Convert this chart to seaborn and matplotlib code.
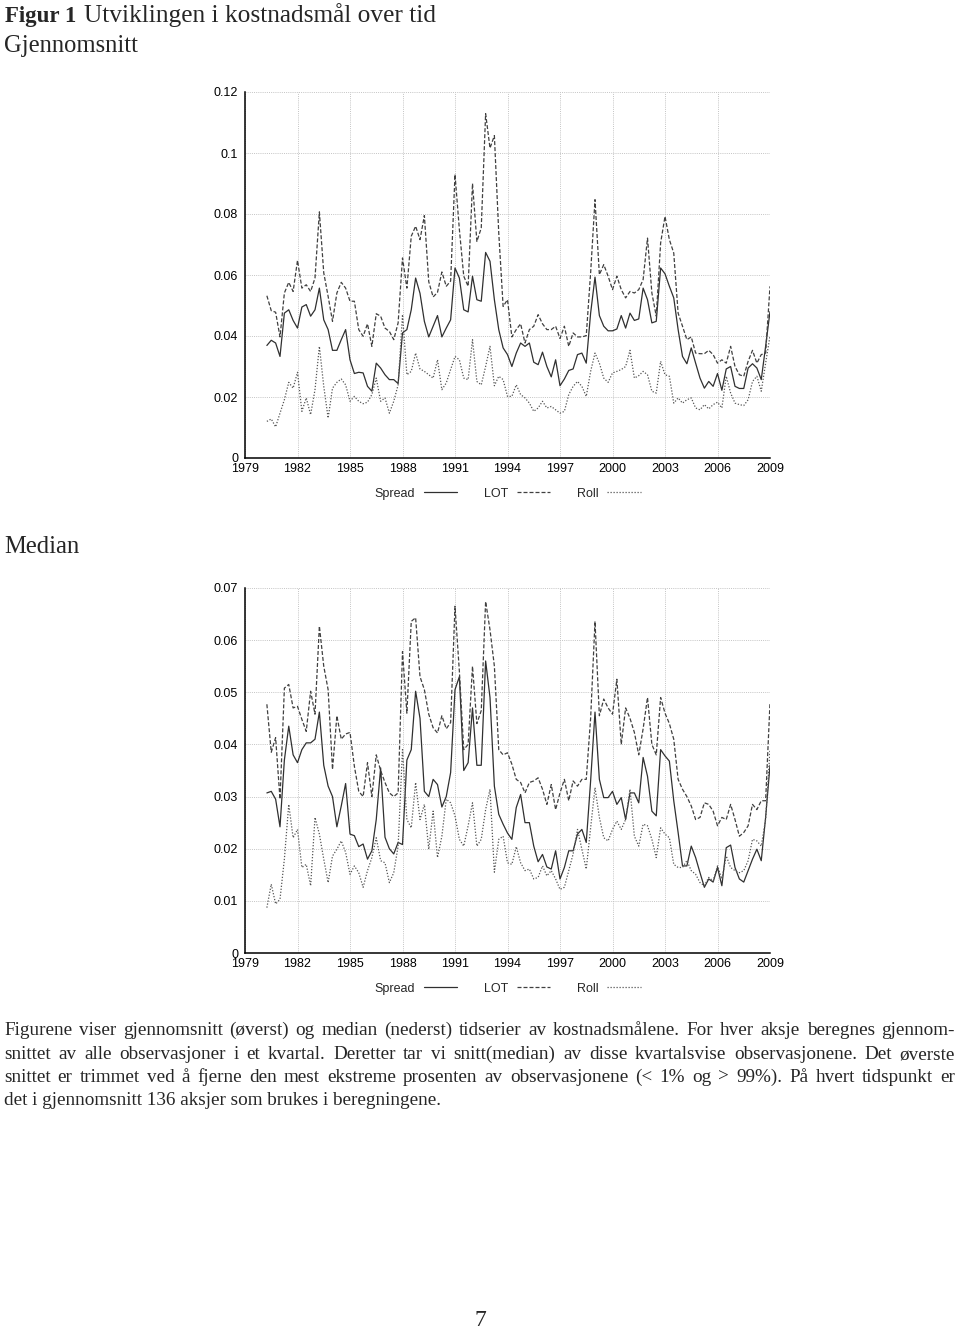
import matplotlib
matplotlib.use('Agg')
import matplotlib.pyplot as plt
import seaborn as sns
import numpy as np
import pandas as pd
from matplotlib.lines import Line2D
from matplotlib.ticker import MultipleLocator, FixedLocator, FuncFormatter

sns.set_style("white")
plt.rcParams['font.family'] = ['Liberation Sans', 'DejaVu Sans']

# quarterly observations, 1980Q2 .. 2009Q1
t = 1980.25 + 0.25 * np.arange(116)

# Gjennomsnitt (trimmed mean)
mean_spread = [
    0.0369, 0.0386, 0.0377, 0.0333, 0.0475, 0.0486, 0.0451, 0.0426, 0.0495, 0.0503,
    0.0465, 0.0486, 0.0557, 0.0453, 0.0421, 0.0353, 0.0353, 0.0388, 0.0421, 0.0322,
    0.0277, 0.0281, 0.0279, 0.0235, 0.0219, 0.0311, 0.0295, 0.0273, 0.0257, 0.0257,
    0.0244, 0.0410, 0.0421, 0.0486, 0.0590, 0.0540, 0.0448, 0.0397, 0.0432, 0.0467,
    0.0397, 0.0426, 0.0453, 0.0623, 0.0590, 0.0486, 0.0479, 0.0596, 0.0519, 0.0514,
    0.0674, 0.0645, 0.0519, 0.0421, 0.0361, 0.0339, 0.0300, 0.0344, 0.0377, 0.0366,
    0.0377, 0.0314, 0.0306, 0.0347, 0.0300, 0.0266, 0.0322, 0.0237, 0.0259, 0.0287,
    0.0292, 0.0339, 0.0344, 0.0311, 0.0475, 0.0593, 0.0467, 0.0432, 0.0417, 0.0417,
    0.0423, 0.0467, 0.0426, 0.0475, 0.0451, 0.0456, 0.0557, 0.0519, 0.0443, 0.0448,
    0.0623, 0.0604, 0.0563, 0.0525, 0.0421, 0.0333, 0.0309, 0.0361, 0.0311, 0.0262,
    0.0229, 0.0251, 0.0235, 0.0277, 0.0222, 0.0292, 0.0300, 0.0235, 0.0228, 0.0228,
    0.0295, 0.0309, 0.0295, 0.0257, 0.0366, 0.0480,
]
mean_lot = [
    0.0532, 0.0483, 0.0478, 0.0397, 0.0541, 0.0576, 0.0546, 0.0648, 0.0557, 0.0568,
    0.0546, 0.0590, 0.0807, 0.0607, 0.0530, 0.0448, 0.0541, 0.0576, 0.0557, 0.0514,
    0.0514, 0.0421, 0.0399, 0.0440, 0.0366, 0.0473, 0.0465, 0.0426, 0.0415, 0.0388,
    0.0443, 0.0656, 0.0557, 0.0727, 0.0760, 0.0716, 0.0795, 0.0578, 0.0528, 0.0543,
    0.0610, 0.0563, 0.0580, 0.0930, 0.0749, 0.0596, 0.0563, 0.0900, 0.0710, 0.0754,
    0.1129, 0.1016, 0.1057, 0.0738, 0.0497, 0.0519, 0.0397, 0.0421, 0.0440, 0.0377,
    0.0421, 0.0432, 0.0470, 0.0440, 0.0421, 0.0421, 0.0432, 0.0392, 0.0432, 0.0366,
    0.0410, 0.0397, 0.0397, 0.0401, 0.0607, 0.0847, 0.0601, 0.0634, 0.0596, 0.0552,
    0.0596, 0.0552, 0.0525, 0.0546, 0.0541, 0.0552, 0.0585, 0.0721, 0.0541, 0.0465,
    0.0705, 0.0792, 0.0716, 0.0672, 0.0475, 0.0432, 0.0388, 0.0397, 0.0344, 0.0342,
    0.0342, 0.0353, 0.0339, 0.0311, 0.0322, 0.0311, 0.0366, 0.0300, 0.0273, 0.0268,
    0.0317, 0.0353, 0.0311, 0.0339, 0.0344, 0.0563,
]
mean_roll = [
    0.0120, 0.0128, 0.0102, 0.0147, 0.0191, 0.0248, 0.0229, 0.0281, 0.0153, 0.0197,
    0.0142, 0.0224, 0.0366, 0.0235, 0.0131, 0.0229, 0.0248, 0.0259, 0.0240, 0.0186,
    0.0202, 0.0186, 0.0178, 0.0183, 0.0208, 0.0262, 0.0186, 0.0197, 0.0147, 0.0186,
    0.0240, 0.0470, 0.0273, 0.0284, 0.0344, 0.0292, 0.0284, 0.0273, 0.0262, 0.0322,
    0.0224, 0.0246, 0.0290, 0.0333, 0.0322, 0.0262, 0.0257, 0.0388, 0.0251, 0.0240,
    0.0300, 0.0366, 0.0237, 0.0268, 0.0257, 0.0202, 0.0202, 0.0240, 0.0208, 0.0197,
    0.0180, 0.0153, 0.0164, 0.0186, 0.0164, 0.0169, 0.0158, 0.0147, 0.0153, 0.0208,
    0.0235, 0.0251, 0.0235, 0.0202, 0.0284, 0.0344, 0.0311, 0.0262, 0.0248, 0.0279,
    0.0284, 0.0290, 0.0300, 0.0353, 0.0262, 0.0270, 0.0284, 0.0273, 0.0219, 0.0213,
    0.0317, 0.0273, 0.0268, 0.0180, 0.0197, 0.0180, 0.0191, 0.0197, 0.0164, 0.0158,
    0.0175, 0.0161, 0.0175, 0.0183, 0.0164, 0.0268, 0.0213, 0.0180, 0.0175, 0.0172,
    0.0191, 0.0251, 0.0268, 0.0219, 0.0311, 0.0400,
]

# Median
med_spread = [
    0.0307, 0.0310, 0.0295, 0.0242, 0.0370, 0.0435, 0.0380, 0.0365, 0.0390, 0.0403,
    0.0403, 0.0410, 0.0462, 0.0360, 0.0320, 0.0300, 0.0242, 0.0282, 0.0325, 0.0228,
    0.0225, 0.0204, 0.0209, 0.0180, 0.0196, 0.0256, 0.0355, 0.0222, 0.0200, 0.0190,
    0.0212, 0.0208, 0.0370, 0.0390, 0.0502, 0.0450, 0.0310, 0.0300, 0.0333, 0.0323,
    0.0280, 0.0300, 0.0346, 0.0505, 0.0530, 0.0350, 0.0365, 0.0470, 0.0360, 0.0360,
    0.0560, 0.0490, 0.0320, 0.0266, 0.0247, 0.0230, 0.0218, 0.0279, 0.0304, 0.0250,
    0.0250, 0.0205, 0.0175, 0.0189, 0.0165, 0.0161, 0.0196, 0.0142, 0.0164, 0.0196,
    0.0196, 0.0228, 0.0237, 0.0212, 0.0330, 0.0462, 0.0333, 0.0298, 0.0298, 0.0310,
    0.0285, 0.0298, 0.0256, 0.0307, 0.0307, 0.0288, 0.0375, 0.0339, 0.0272, 0.0263,
    0.0390, 0.0378, 0.0368, 0.0292, 0.0231, 0.0167, 0.0167, 0.0205, 0.0183, 0.0154,
    0.0126, 0.0142, 0.0136, 0.0164, 0.0129, 0.0202, 0.0207, 0.0164, 0.0142, 0.0136,
    0.0158, 0.0180, 0.0199, 0.0177, 0.0260, 0.0360,
]
med_lot = [
    0.0477, 0.0385, 0.0413, 0.0295, 0.0508, 0.0515, 0.0470, 0.0473, 0.0448, 0.0425,
    0.0502, 0.0458, 0.0627, 0.0550, 0.0505, 0.0352, 0.0455, 0.0410, 0.0420, 0.0423,
    0.0358, 0.0310, 0.0300, 0.0365, 0.0300, 0.0380, 0.0350, 0.0327, 0.0307, 0.0300,
    0.0307, 0.0578, 0.0460, 0.0636, 0.0643, 0.0530, 0.0505, 0.0458, 0.0432, 0.0422,
    0.0455, 0.0430, 0.0442, 0.0665, 0.0540, 0.0390, 0.0400, 0.0550, 0.0440, 0.0465,
    0.0674, 0.0620, 0.0550, 0.0390, 0.0380, 0.0384, 0.0362, 0.0333, 0.0327, 0.0307,
    0.0327, 0.0330, 0.0336, 0.0314, 0.0285, 0.0323, 0.0275, 0.0307, 0.0333, 0.0292,
    0.0330, 0.0320, 0.0333, 0.0333, 0.0450, 0.0636, 0.0455, 0.0487, 0.0470, 0.0458,
    0.0525, 0.0400, 0.0470, 0.0450, 0.0423, 0.0380, 0.0430, 0.0490, 0.0400, 0.0380,
    0.0490, 0.0460, 0.0440, 0.0410, 0.0333, 0.0314, 0.0300, 0.0282, 0.0256, 0.0260,
    0.0288, 0.0285, 0.0272, 0.0244, 0.0260, 0.0256, 0.0285, 0.0256, 0.0224, 0.0231,
    0.0244, 0.0285, 0.0275, 0.0292, 0.0292, 0.0480,
]
med_roll = [
    0.0087, 0.0132, 0.0094, 0.0103, 0.0180, 0.0285, 0.0221, 0.0237, 0.0164, 0.0170,
    0.0129, 0.0260, 0.0228, 0.0180, 0.0135, 0.0186, 0.0199, 0.0215, 0.0193, 0.0151,
    0.0167, 0.0154, 0.0126, 0.0158, 0.0183, 0.0221, 0.0177, 0.0173, 0.0135, 0.0154,
    0.0205, 0.0390, 0.0256, 0.0240, 0.0327, 0.0256, 0.0285, 0.0199, 0.0272, 0.0183,
    0.0224, 0.0295, 0.0288, 0.0263, 0.0218, 0.0205, 0.0244, 0.0288, 0.0205, 0.0218,
    0.0275, 0.0314, 0.0155, 0.0218, 0.0224, 0.0173, 0.0170, 0.0204, 0.0173, 0.0158,
    0.0161, 0.0142, 0.0145, 0.0167, 0.0148, 0.0158, 0.0142, 0.0122, 0.0126, 0.0158,
    0.0190, 0.0237, 0.0199, 0.0161, 0.0240, 0.0317, 0.0260, 0.0221, 0.0215, 0.0237,
    0.0253, 0.0237, 0.0256, 0.0314, 0.0224, 0.0205, 0.0247, 0.0244, 0.0218, 0.0183,
    0.0240, 0.0228, 0.0221, 0.0170, 0.0164, 0.0164, 0.0177, 0.0158, 0.0151, 0.0135,
    0.0129, 0.0145, 0.0138, 0.0167, 0.0142, 0.0186, 0.0164, 0.0158, 0.0154, 0.0158,
    0.0177, 0.0218, 0.0215, 0.0205, 0.0256, 0.0390,
]

year_ticks = list(range(1979, 2010, 3))
series_names = ['Spread', 'LOT', 'Roll']
styles = {
    'Spread': dict(color='#303030', linestyle='-', linewidth=0.9),
    'LOT': dict(color='#404040', linestyle=(0, (3.2, 1.6)), linewidth=0.9),
    'Roll': dict(color='#555555', linestyle=(0, (1.0, 1.4)), linewidth=0.9),
}

W, H = 960, 1330
fig = plt.figure(figsize=(W / 100, H / 100), dpi=100)
fig.patch.set_facecolor('white')


def draw_panel(ax, spread, lot, roll, ymax, ystep):
    df = pd.DataFrame({'t': t, 'Spread': spread, 'LOT': lot, 'Roll': roll})
    for name in series_names:
        sns.lineplot(data=df, x='t', y=name, ax=ax, legend=False, **styles[name])
    ax.set_xlim(1979, 2009)
    ax.set_ylim(0, ymax)
    ax.xaxis.set_major_locator(FixedLocator(year_ticks))
    ax.xaxis.set_minor_locator(MultipleLocator(1))
    ax.yaxis.set_major_locator(MultipleLocator(ystep))
    ax.yaxis.set_major_formatter(FuncFormatter(lambda v, p: '%g' % round(v, 4)))
    ax.set_xlabel('')
    ax.set_ylabel('')
    ax.grid(True, which='major', color='#c4c4c4', linestyle=(0, (1, 1.2)), linewidth=0.7)
    for s in ['top', 'right']:
        ax.spines[s].set_visible(False)
    for s in ['left', 'bottom']:
        ax.spines[s].set_color('black')
        ax.spines[s].set_linewidth(1.1)
    ax.tick_params(axis='both', which='major', direction='in', length=5, width=0.8,
                   labelsize=9, colors='black')
    ax.tick_params(axis='x', which='minor', direction='in', length=2.5, width=0.7)
    ax.tick_params(axis='y', pad=5)
    ax.tick_params(axis='x', pad=3.5)
    handles = [Line2D([0], [0], **styles[n]) for n in series_names]
    ax.legend(handles, series_names, loc='center', bbox_to_anchor=(0.5, -0.098),
              ncol=3, frameon=False, markerfirst=False, fontsize=9,
              handlelength=2.7, handletextpad=0.7, columnspacing=2.1)


ax1 = fig.add_axes([245 / W, 1 - 458 / H, 525 / W, 366 / H])
draw_panel(ax1, mean_spread, mean_lot, mean_roll, 0.12, 0.02)
ax2 = fig.add_axes([245 / W, 1 - 953 / H, 525 / W, 365 / H])
draw_panel(ax2, med_spread, med_lot, med_roll, 0.07, 0.01)

serif = ['Liberation Serif', 'DejaVu Serif']
fig.text(5 / W, 1 - 22 / H, 'Figur 1', family=serif, fontsize=16.5, fontweight='bold',
         va='baseline', ha='left')
fig.text(84 / W, 1 - 22 / H, 'Utviklingen i kostnadsm\u00e5l over tid', family=serif,
         fontsize=18.3, va='baseline', ha='left')
fig.text(4 / W, 1 - 52 / H, 'Gjennomsnitt', family=serif, fontsize=17.7, va='baseline', ha='left')
fig.text(4 / W, 1 - 553 / H, 'Median', family=serif, fontsize=17.7, va='baseline', ha='left')
fig.text(480 / W, 1 - 1326 / H, '7', family=serif, fontsize=17, va='baseline', ha='center')

caption = [
    'Figurene viser gjennomsnitt (\u00f8verst) og median (nederst) tidserier av kostnadsm\u00e5lene. '
    'For hver aksje beregnes gjennom-',
    'snittet av alle observasjoner i et kvartal. Deretter tar vi snitt(median) av disse '
    'kvartalsvise observasjonene. Det \u00f8verste',
    'snittet er trimmet ved \u00e5 fjerne den mest ekstreme prosenten av observasjonene '
    '(< 1% og > 99%). P\u00e5 hvert tidspunkt er',
    'det i gjennomsnitt 136 aksjer som brukes i beregningene.',
]
cap_y = [1035, 1059, 1082, 1105]
x0, x1 = 4, 955
cap_size = 13.8

fig.canvas.draw()
r = fig.canvas.get_renderer()
for k, line in enumerate(caption):
    y = 1 - cap_y[k] / H
    if k == len(caption) - 1:
        fig.text(x0 / W, y, line, family=serif, fontsize=cap_size, va='baseline', ha='left')
        continue
    words = line.split(' ')
    objs = [fig.text(0, y, w, family=serif, fontsize=cap_size, va='baseline', ha='left')
            for w in words]
    widths = [o.get_window_extent(r).width for o in objs]
    gap = (x1 - x0 - sum(widths)) / (len(words) - 1)
    x = x0
    for o, w in zip(objs, widths):
        o.set_x(x / W)
        x += w + gap

fig.savefig('out.png', dpi=100, facecolor='white')
